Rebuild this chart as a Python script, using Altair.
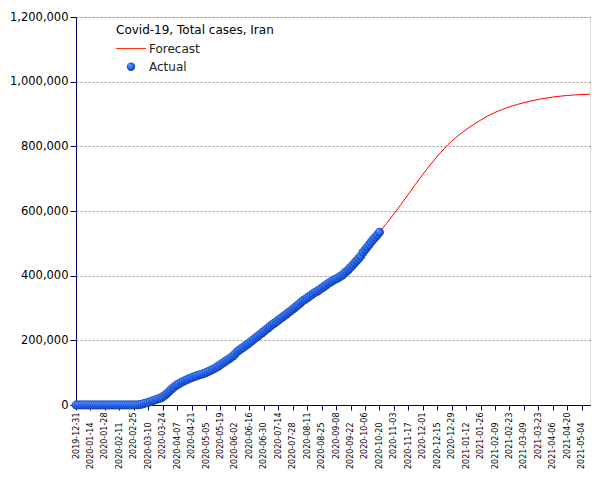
import altair as alt
import pandas as pd

# ---------------- data ----------------
actual_start = "2019-12-31"   # one value every 2 days
actual_values = [
    0,
    0, 0, 0, 0, 0, 0, 0, 0, 0, 0, 0, 0, 0, 0, 0,
    0, 0, 0, 0, 0, 0, 0, 0, 0, 2, 18, 43, 95, 245, 593,
    1501, 2922, 4747, 6566, 8042, 10075, 12729, 14991, 17361, 19644, 21638, 24811, 29406, 35408, 41495,
    47593, 53183, 58226, 62589, 66220, 70029, 73303, 76389, 79494, 82211, 84802, 87026, 89328, 91472, 93657,
    95646, 97424, 99970, 103135, 106220, 109286, 112725, 116635, 120198, 124603, 129341, 133521, 137724, 141591, 146668, 151466,
    157562, 164270, 169425, 173832, 177938, 182525, 187427, 192439, 197647, 202584, 207525, 212501, 217724, 222669, 227662,
    232863, 237878, 243051, 248379, 252720, 257303, 262173, 267061, 271606, 276202, 281413, 286523, 291172, 296273, 301530,
    306752, 312035, 317483, 322567, 326712, 331189, 335602, 340206, 345450, 348825, 352558, 356792, 361150, 365606, 369911, 375212,
    379385, 382772, 386658, 390247, 393425, 397801, 402029, 407353, 413149, 419043, 425481, 432798, 439882, 446448, 453637,
    461044, 471772, 479825, 488236, 496253, 504281, 512000, 519000, 526490, 534631,
]

forecast_dates = [
    "2020-10-20", "2020-10-27", "2020-11-03", "2020-11-10", "2020-11-17", "2020-11-24",
    "2020-12-01", "2020-12-08", "2020-12-15", "2020-12-22", "2020-12-29", "2021-01-05",
    "2021-01-12", "2021-01-19", "2021-01-26", "2021-02-02", "2021-02-09", "2021-02-16",
    "2021-02-23", "2021-03-02", "2021-03-09", "2021-03-16", "2021-03-23", "2021-03-30",
    "2021-04-06", "2021-04-13", "2021-04-20", "2021-04-27", "2021-05-04", "2021-05-12",
]
forecast_values = [
    534631, 562000, 591000, 621000, 652000, 683000,
    713000, 742000, 769000, 794000, 816000, 835000,
    852000, 867000, 881000, 894000, 905000, 914000,
    922000, 929000, 935000, 940500, 945000, 949000,
    952500, 955000, 957300, 959000, 960300, 961300,
]

tick_dates_a = [  # labels nearer the axis
    "2019-12-31", "2020-01-28", "2020-02-25", "2020-03-24", "2020-04-21", "2020-05-19",
    "2020-06-16", "2020-07-14", "2020-08-11", "2020-09-08", "2020-10-06", "2020-11-03",
    "2020-12-01", "2020-12-29", "2021-01-26", "2021-02-23", "2021-03-23", "2021-04-20",
]
tick_dates_b = [  # staggered labels
    "2020-01-14", "2020-02-11", "2020-03-10", "2020-04-07", "2020-05-05", "2020-06-02",
    "2020-06-30", "2020-07-28", "2020-08-25", "2020-09-22", "2020-10-20", "2020-11-17",
    "2020-12-15", "2021-01-12", "2021-02-09", "2021-03-09", "2021-04-06", "2021-05-04",
]
y_ticks = [0, 200000, 400000, 600000, 800000, 1000000, 1200000]
x_domain = ["2019-12-31", "2021-05-12"]

title_text = "Covid-19, Total cases, Iran"
legend_labels = ["Forecast", "Actual"]

# ---------------- frames ----------------
def ms(d):
    return int(pd.Timestamp(d, tz="UTC").value // 10**6)

actual_df = pd.DataFrame({
    "date": pd.date_range(actual_start, periods=len(actual_values), freq="2D").strftime("%Y-%m-%d"),
    "cases": actual_values,
})
forecast_df = pd.DataFrame({"date": forecast_dates, "cases": forecast_values})

FONT = "DejaVu Sans"
NAVY = "#000066"
x_scale = alt.Scale(type="utc", domain=[ms(d) for d in x_domain], nice=False)


def x_axis(values, pad):
    return alt.Axis(
        title=None, orient="bottom", values=[ms(d) for d in values], format="%Y-%m-%d",
        labelAngle=270, labelFontSize=8, labelFont=FONT, labelColor="black",
        labelOverlap=False, labelPadding=pad, tickSize=5, tickColor=NAVY,
        domainColor=NAVY, grid=False,
    )


y_enc = alt.Y(
    "cases:Q",
    scale=alt.Scale(domain=[0, 1200000], nice=False, zero=True),
    axis=alt.Axis(
        title=None, values=y_ticks, format=",d", labelFontSize=11.5, labelFont=FONT,
        labelColor="black", labelPadding=2, tickSize=6, tickColor=NAVY,
        domainColor=NAVY, grid=True, gridColor="#999999", gridDash=[2, 2], gridWidth=1,
    ),
)

sphere = alt.RadialGradient(
    gradient="radial",
    stops=[
        alt.GradientStop(offset=0, color="#b0d0ff"),
        alt.GradientStop(offset=0.2, color="#4a8aff"),
        alt.GradientStop(offset=0.6, color="#2166f0"),
        alt.GradientStop(offset=0.85, color="#1a3fb0"),
        alt.GradientStop(offset=1, color="#0a1660"),
    ],
    x1=0.3, y1=0.28, r1=0, x2=0.5, y2=0.5, r2=0.58,
)

forecast_line = alt.Chart(forecast_df).mark_line(
    color="#ff0000", strokeWidth=1, interpolate="monotone"
).encode(x=alt.X("date:T", scale=x_scale, axis=x_axis(tick_dates_a, 2)), y=y_enc)

actual_pts = alt.Chart(actual_df).mark_circle(
    color=sphere, size=78, opacity=1
).encode(x=alt.X("date:T", scale=x_scale, axis=x_axis(tick_dates_b, 12)), y=y_enc)

# legend (drawn inside plot area, top-left)
title_df = pd.DataFrame({"t": [title_text]})
legend_title = alt.Chart(title_df).mark_text(
    align="left", baseline="middle", font=FONT, fontSize=12, color="black"
).encode(x=alt.value(40), y=alt.value(13), text="t:N")

lab_df = pd.DataFrame({"t": legend_labels, "yy": [31.5, 49.5]})
legend_text = alt.Chart(lab_df).mark_text(
    align="left", baseline="middle", font=FONT, fontSize=12, color="#222222"
).encode(x=alt.value(73), y=alt.value(0), text="t:N", yOffset=alt.YOffset("yy:Q", scale=None))

legend_line = alt.Chart(pd.DataFrame({"a": [1]})).mark_rule(
    color="#ff3300", strokeWidth=1
).encode(x=alt.value(40), x2=alt.value(70), y=alt.value(31.5))

legend_pt = alt.Chart(pd.DataFrame({"a": [1]})).mark_circle(
    color=sphere, size=70, opacity=1
).encode(x=alt.value(55), y=alt.value(49.7))

chart = alt.layer(
    forecast_line, actual_pts, legend_title, legend_line, legend_pt, legend_text
).resolve_axis(x="independent").properties(
    width=514, height=388,
    autosize=alt.AutoSizeParams(type="none"),
    padding={"left": 68, "top": 9, "right": 5, "bottom": 66},
).configure_view(stroke=None).configure(background="white")

chart.save("out.html", embed_options={"renderer": "svg", "actions": False})
